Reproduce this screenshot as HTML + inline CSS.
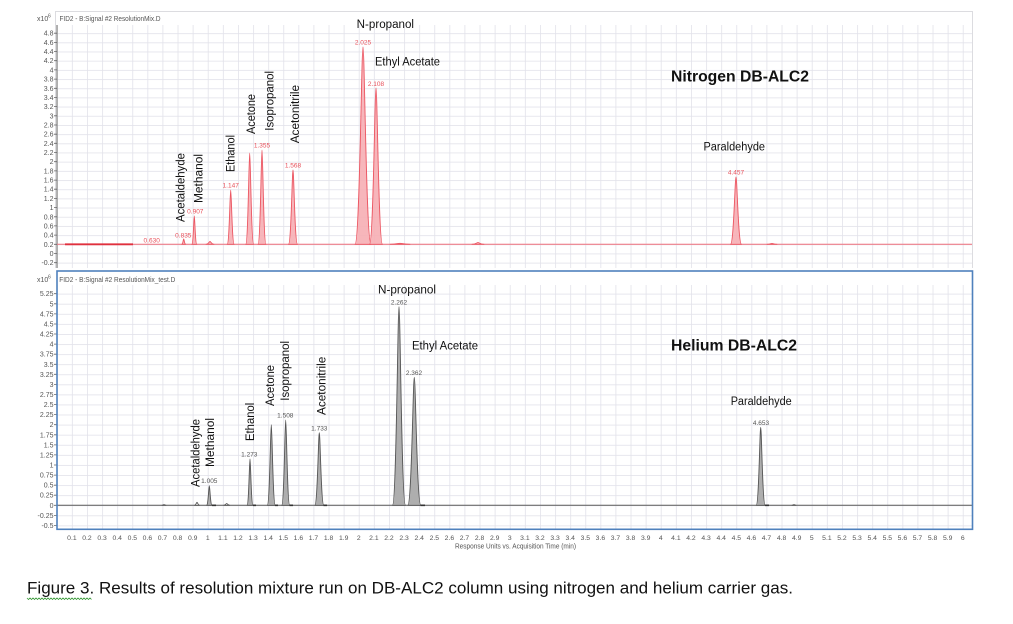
<!DOCTYPE html>
<html><head><meta charset="utf-8"><style>
html,body{margin:0;padding:0;background:#fff;}
svg{display:block;}
</style></head><body>
<svg width="1013" height="624" viewBox="0 0 1013 624" xmlns="http://www.w3.org/2000/svg" font-family="Liberation Sans, Arial, sans-serif">
<defs>
<pattern id="vg" patternUnits="userSpaceOnUse" x="56.8" y="0" width="15.1" height="50"><rect x="0" y="0" width="0.8" height="50" fill="#e2e2ea"/></pattern>
<pattern id="hgT" patternUnits="userSpaceOnUse" x="0" y="33.2" width="50" height="9.18"><rect x="0" y="0" width="50" height="0.8" fill="#e2e2ea"/></pattern>
<pattern id="hgB" patternUnits="userSpaceOnUse" x="0" y="293.7" width="50" height="10.075"><rect x="0" y="0" width="50" height="0.8" fill="#e2e2ea"/></pattern>
</defs>
<rect width="1013" height="624" fill="#fff"/>

<!-- ===== TOP CHART ===== -->
<path d="M55.5,268 V11.5 H972.5 V268" fill="none" stroke="#dcdce0" stroke-width="1"/>
<rect x="57" y="25" width="915" height="243" fill="url(#vg)"/>
<rect x="57" y="32.8" width="915" height="232" fill="url(#hgT)"/>
<line x1="57" y1="25" x2="57" y2="268" stroke="#666" stroke-width="1"/>
<g font-size="7" fill="#555" text-anchor="end">
<text x="53.5" y="35.7">4.8</text><text x="53.5" y="44.9">4.6</text><text x="53.5" y="54">4.4</text><text x="53.5" y="63.2">4.2</text><text x="53.5" y="72.4">4</text><text x="53.5" y="81.6">3.8</text><text x="53.5" y="90.8">3.6</text><text x="53.5" y="99.9">3.4</text><text x="53.5" y="109.1">3.2</text><text x="53.5" y="118.3">3</text><text x="53.5" y="127.5">2.8</text><text x="53.5" y="136.7">2.6</text><text x="53.5" y="145.8">2.4</text><text x="53.5" y="155">2.2</text><text x="53.5" y="164.2">2</text><text x="53.5" y="173.4">1.8</text><text x="53.5" y="182.6">1.6</text><text x="53.5" y="191.7">1.4</text><text x="53.5" y="200.9">1.2</text><text x="53.5" y="210.1">1</text><text x="53.5" y="219.3">0.8</text><text x="53.5" y="228.4">0.6</text><text x="53.5" y="237.6">0.4</text><text x="53.5" y="246.8">0.2</text><text x="53.5" y="256">0</text><text x="53.5" y="265.2">-0.2</text>
</g>
<g stroke="#666" stroke-width="0.8">
<path d="M54,33.2H57M54,42.4H57M54,51.5H57M54,60.7H57M54,69.9H57M54,79.1H57M54,88.3H57M54,97.4H57M54,106.6H57M54,115.8H57M54,125H57M54,134.2H57M54,143.3H57M54,152.5H57M54,161.7H57M54,170.9H57M54,180.1H57M54,189.2H57M54,198.4H57M54,207.6H57M54,216.8H57M54,225.9H57M54,235.1H57M54,244.3H57M54,253.5H57M54,262.7H57"/>
</g>
<text x="37" y="21" font-size="7" fill="#555">x10</text><text x="48" y="17.5" font-size="5" fill="#555">6</text>
<text x="59.5" y="21" font-size="7" fill="#555" textLength="101" lengthAdjust="spacingAndGlyphs">FID2 - B:Signal #2 ResolutionMix.D</text>

<!-- top baseline -->
<line x1="57" y1="244.3" x2="972" y2="244.3" stroke="#f0707c" stroke-width="1"/>
<line x1="65" y1="244.3" x2="133" y2="244.3" stroke="#e0303e" stroke-width="1.8"/>
<!-- top peaks -->
<g fill="#f6aeb4" fill-opacity="0.9" stroke="#ec5662" stroke-width="0.9" stroke-linejoin="round">
<path d="M181.7,244.3 C182.9,244.3 183.3,239 183.7,239 C184.1,239 184.5,244.3 185.7,244.3 Z"/>
<path d="M191.8,244.3 C193.3,244.3 193.8,216 194.3,216 C194.8,216 195.3,244.3 196.8,244.3 Z"/>
<path d="M206,244.3 C208.4,244.3 209.2,241.5 210,241.5 C210.8,241.5 211.6,244.3 214,244.3 Z"/>
<path d="M227.2,244.3 C229.3,244.3 230,190 230.7,190 C231.4,190 232.1,244.3 234.2,244.3 Z"/>
<path d="M245.7,244.3 C248.1,244.3 248.9,153 249.7,153 C250.5,153 251.3,244.3 253.7,244.3 Z"/>
<path d="M258,244.3 C260.4,244.3 261.2,150 262,150 C262.8,150 263.6,244.3 266,244.3 Z"/>
<path d="M288.5,244.3 C291.2,244.3 292.1,170 293,170 C293.9,170 294.8,244.3 297.5,244.3 Z"/>
<path d="M355,244.3 C359.8,244.3 361.4,47 363,47 C364.6,47 366.2,244.3 371,244.3 Z"/>
<path d="M369.5,244.3 C373.4,244.3 374.7,88 376,88 C377.3,88 378.6,244.3 382.5,244.3 Z"/>
<path d="M390,244.3 C396,244.3 398,243.3 400,243.3 C402,243.3 404,244.3 410,244.3 Z"/>
<path d="M472,244.3 C475.6,244.3 476.8,242.6 478,242.6 C479.2,242.6 480.4,244.3 484,244.3 Z"/>
<path d="M730.5,244.3 C733.8,244.3 734.9,177 736,177 C737.1,177 738.2,244.3 741.5,244.3 Z"/>
<path d="M767,244.3 C770,244.3 771,243.4 772,243.4 C773,243.4 774,244.3 777,244.3 Z"/>
</g>
<!-- top retention labels -->
<g font-size="6.5" fill="#e8505a" text-anchor="middle">
<text x="151.7" y="242.3">0.630</text>
<text x="183.3" y="237.3">0.835</text>
<text x="195.3" y="213.3">0.907</text>
<text x="230.7" y="187.3">1.147</text>
<text x="262" y="147.3">1.355</text>
<text x="293" y="167.3">1.568</text>
<text x="363" y="44.6">2.025</text>
<text x="376" y="86">2.108</text>
<text x="736" y="174.3">4.457</text>
</g>
<!-- top compound labels -->
<g font-size="11.5" fill="#111">
<text transform="translate(184.7,222) rotate(-90)" textLength="69" lengthAdjust="spacingAndGlyphs">Acetaldehyde</text>
<text transform="translate(202.7,203) rotate(-90)" textLength="49" lengthAdjust="spacingAndGlyphs">Methanol</text>
<text transform="translate(234.7,172) rotate(-90)" textLength="37" lengthAdjust="spacingAndGlyphs">Ethanol</text>
<text transform="translate(255,134) rotate(-90)" textLength="40" lengthAdjust="spacingAndGlyphs">Acetone</text>
<text transform="translate(273.3,130.7) rotate(-90)" textLength="59.7" lengthAdjust="spacingAndGlyphs">Isopropanol</text>
<text transform="translate(299,143.3) rotate(-90)" textLength="58.3" lengthAdjust="spacingAndGlyphs">Acetonitrile</text>
<text x="356.7" y="28" textLength="57.3" lengthAdjust="spacingAndGlyphs">N-propanol</text>
<text x="375" y="65.5" textLength="65" lengthAdjust="spacingAndGlyphs">Ethyl Acetate</text>
<text x="703.5" y="150.5" textLength="61.5" lengthAdjust="spacingAndGlyphs">Paraldehyde</text>
</g>
<text x="671" y="81.5" font-size="16" font-weight="bold" fill="#111" textLength="138" lengthAdjust="spacingAndGlyphs">Nitrogen DB-ALC2</text>

<!-- ===== BOTTOM CHART ===== -->
<rect x="57" y="285" width="915" height="244" fill="url(#vg)"/>
<rect x="57" y="293.3" width="915" height="235" fill="url(#hgB)"/>
<g font-size="7" fill="#555" text-anchor="end">
<text x="53.5" y="296.2">5.25</text><text x="53.5" y="306.3">5</text><text x="53.5" y="316.4">4.75</text><text x="53.5" y="326.5">4.5</text><text x="53.5" y="336.5">4.25</text><text x="53.5" y="346.6">4</text><text x="53.5" y="356.7">3.75</text><text x="53.5" y="366.8">3.5</text><text x="53.5" y="376.8">3.25</text><text x="53.5" y="386.9">3</text><text x="53.5" y="397">2.75</text><text x="53.5" y="407.1">2.5</text><text x="53.5" y="417.1">2.25</text><text x="53.5" y="427.2">2</text><text x="53.5" y="437.3">1.75</text><text x="53.5" y="447.4">1.5</text><text x="53.5" y="457.4">1.25</text><text x="53.5" y="467.5">1</text><text x="53.5" y="477.6">0.75</text><text x="53.5" y="487.7">0.5</text><text x="53.5" y="497.7">0.25</text><text x="53.5" y="507.8">0</text><text x="53.5" y="517.9">-0.25</text><text x="53.5" y="528">-0.5</text>
</g>
<g stroke="#666" stroke-width="0.8">
<path d="M54,293.7H57M54,303.8H57M54,313.9H57M54,324H57M54,334H57M54,344.1H57M54,354.2H57M54,364.3H57M54,374.3H57M54,384.4H57M54,394.5H57M54,404.6H57M54,414.6H57M54,424.7H57M54,434.8H57M54,444.9H57M54,454.9H57M54,465H57M54,475.1H57M54,485.2H57M54,495.2H57M54,505.3H57M54,515.4H57M54,525.5H57"/>
</g>
<text x="37" y="282" font-size="7" fill="#555">x10</text><text x="48" y="278.5" font-size="5" fill="#555">6</text>
<text x="59.3" y="282" font-size="7" fill="#555" textLength="116" lengthAdjust="spacingAndGlyphs">FID2 - B:Signal #2 ResolutionMix_test.D</text>

<line x1="57" y1="505.3" x2="972" y2="505.3" stroke="#5a5a5a" stroke-width="1"/>
<g fill="#aeaeae" stroke="#555" stroke-width="0.9" stroke-linejoin="round">
<path d="M162,505.3 C163.2,505.3 163.6,504.6 164,504.6 C164.4,504.6 164.8,505.3 166,505.3 Z"/>
<path d="M194.5,505.3 C196,505.3 196.5,502.3 197,502.3 C197.5,502.3 198,505.3 199.5,505.3 Z" fill="#fff"/>
<path d="M206.55,505.3 C208.2,505.3 208.75,485.7 209.3,485.7 C209.85,485.7 210.4,505.3 212.05,505.3 Z"/>
<path d="M223.7,505.3 C225.5,505.3 226.1,503.6 226.7,503.6 C227.3,503.6 227.9,505.3 229.7,505.3 Z" fill="#fff"/>
<path d="M247,505.3 C248.8,505.3 249.4,459 250,459 C250.6,459 251.2,505.3 253,505.3 Z"/>
<path d="M267.3,505.3 C269.7,505.3 270.5,424.7 271.3,424.7 C272.1,424.7 272.9,505.3 275.3,505.3 Z"/>
<path d="M281.7,505.3 C284.1,505.3 284.9,420 285.7,420 C286.5,420 287.3,505.3 289.7,505.3 Z"/>
<path d="M314.8,505.3 C317.5,505.3 318.4,432.7 319.3,432.7 C320.2,432.7 321.1,505.3 323.8,505.3 Z"/>
<path d="M392.5,505.3 C396.4,505.3 397.7,306.7 399,306.7 C400.3,306.7 401.6,505.3 405.5,505.3 Z"/>
<path d="M407.8,505.3 C411.7,505.3 413,377.3 414.3,377.3 C415.6,377.3 416.9,505.3 420.8,505.3 Z"/>
<path d="M756.2,505.3 C758.9,505.3 759.8,427.3 760.7,427.3 C761.6,427.3 762.5,505.3 765.2,505.3 Z"/>
<path d="M792,505.3 C793.2,505.3 793.6,504.6 794,504.6 C794.4,504.6 794.8,505.3 796,505.3 Z"/>
</g>
<g stroke="#333" stroke-width="1.6">
<path d="M212,505.3H216M253,505.3H256M275,505.3H278M289.5,505.3H293M323.5,505.3H327M420.5,505.3H425M765,505.3H769"/>
</g>
<g font-size="6.5" fill="#555" text-anchor="middle">
<text x="209.3" y="483">1.005</text>
<text x="249.3" y="456.3">1.273</text>
<text x="285.3" y="417.3">1.508</text>
<text x="319.3" y="430.6">1.733</text>
<text x="399" y="304.3">2.262</text>
<text x="414" y="375">2.362</text>
<text x="761" y="425">4.653</text>
</g>
<g font-size="11.5" fill="#111">
<text transform="translate(199.7,487) rotate(-90)" textLength="68" lengthAdjust="spacingAndGlyphs">Acetaldehyde</text>
<text transform="translate(214,467) rotate(-90)" textLength="49" lengthAdjust="spacingAndGlyphs">Methanol</text>
<text transform="translate(254,441) rotate(-90)" textLength="38.3" lengthAdjust="spacingAndGlyphs">Ethanol</text>
<text transform="translate(274,406) rotate(-90)" textLength="41" lengthAdjust="spacingAndGlyphs">Acetone</text>
<text transform="translate(289,400.7) rotate(-90)" textLength="59.7" lengthAdjust="spacingAndGlyphs">Isopropanol</text>
<text transform="translate(325.3,415) rotate(-90)" textLength="58.3" lengthAdjust="spacingAndGlyphs">Acetonitrile</text>
<text x="378" y="293.5" textLength="58" lengthAdjust="spacingAndGlyphs">N-propanol</text>
<text x="412" y="349.5" textLength="66" lengthAdjust="spacingAndGlyphs">Ethyl Acetate</text>
<text x="730.7" y="405" textLength="61" lengthAdjust="spacingAndGlyphs">Paraldehyde</text>
</g>
<text x="671" y="350.5" font-size="16" font-weight="bold" fill="#111" textLength="126" lengthAdjust="spacingAndGlyphs">Helium DB-ALC2</text>

<!-- bottom frame -->
<rect x="57" y="271" width="915.5" height="258.3" fill="none" stroke="#4f81bd" stroke-width="1.6"/>

<!-- x axis labels -->
<g font-size="6.8" fill="#555" text-anchor="middle">
<text x="71.9" y="540">0.1</text><text x="87" y="540">0.2</text><text x="102.1" y="540">0.3</text><text x="117.2" y="540">0.4</text><text x="132.3" y="540">0.5</text><text x="147.4" y="540">0.6</text><text x="162.5" y="540">0.7</text><text x="177.6" y="540">0.8</text><text x="192.7" y="540">0.9</text><text x="207.8" y="540">1</text>
<text x="222.9" y="540">1.1</text><text x="238" y="540">1.2</text><text x="253.1" y="540">1.3</text><text x="268.2" y="540">1.4</text><text x="283.3" y="540">1.5</text><text x="298.4" y="540">1.6</text><text x="313.5" y="540">1.7</text><text x="328.6" y="540">1.8</text><text x="343.7" y="540">1.9</text><text x="358.8" y="540">2</text>
<text x="373.9" y="540">2.1</text><text x="389" y="540">2.2</text><text x="404.1" y="540">2.3</text><text x="419.2" y="540">2.4</text><text x="434.3" y="540">2.5</text><text x="449.4" y="540">2.6</text><text x="464.5" y="540">2.7</text><text x="479.6" y="540">2.8</text><text x="494.7" y="540">2.9</text><text x="509.8" y="540">3</text>
<text x="524.9" y="540">3.1</text><text x="540" y="540">3.2</text><text x="555.1" y="540">3.3</text><text x="570.2" y="540">3.4</text><text x="585.3" y="540">3.5</text><text x="600.4" y="540">3.6</text><text x="615.5" y="540">3.7</text><text x="630.6" y="540">3.8</text><text x="645.7" y="540">3.9</text><text x="660.8" y="540">4</text>
<text x="675.9" y="540">4.1</text><text x="691" y="540">4.2</text><text x="706.1" y="540">4.3</text><text x="721.2" y="540">4.4</text><text x="736.3" y="540">4.5</text><text x="751.4" y="540">4.6</text><text x="766.5" y="540">4.7</text><text x="781.6" y="540">4.8</text><text x="796.7" y="540">4.9</text><text x="811.8" y="540">5</text>
<text x="826.9" y="540">5.1</text><text x="842" y="540">5.2</text><text x="857.1" y="540">5.3</text><text x="872.2" y="540">5.4</text><text x="887.3" y="540">5.5</text><text x="902.4" y="540">5.6</text><text x="917.5" y="540">5.7</text><text x="932.6" y="540">5.8</text><text x="947.7" y="540">5.9</text><text x="962.8" y="540">6</text>
</g>
<text x="515.5" y="548.3" font-size="7" fill="#555" text-anchor="middle" textLength="121" lengthAdjust="spacingAndGlyphs">Response Units vs. Acquisition Time (min)</text>

<!-- caption -->
<text x="27" y="593.5" font-size="17" fill="#111" textLength="766" lengthAdjust="spacingAndGlyphs">Figure 3. Results of resolution mixture run on DB-ALC2 column using nitrogen and helium carrier gas.</text>
<path d="M27,598 l1.5,1.5 l1.5,-1.5 l1.5,1.5 l1.5,-1.5 l1.5,1.5 l1.5,-1.5 l1.5,1.5 l1.5,-1.5 l1.5,1.5 l1.5,-1.5 l1.5,1.5 l1.5,-1.5 l1.5,1.5 l1.5,-1.5 l1.5,1.5 l1.5,-1.5 l1.5,1.5 l1.5,-1.5 l1.5,1.5 l1.5,-1.5 l1.5,1.5 l1.5,-1.5 l1.5,1.5 l1.5,-1.5 l1.5,1.5 l1.5,-1.5 l1.5,1.5 l1.5,-1.5 l1.5,1.5 l1.5,-1.5 l1.5,1.5 l1.5,-1.5 l1.5,1.5 l1.5,-1.5 l1.5,1.5 l1.5,-1.5 l1.5,1.5 l1.5,-1.5 l1.5,1.5 l1.5,-1.5 l1.5,1.5 l1.5,-1.5 l1.5,1.5" fill="none" stroke="#3a9a3a" stroke-width="0.8"/>
</svg>
</body></html>
